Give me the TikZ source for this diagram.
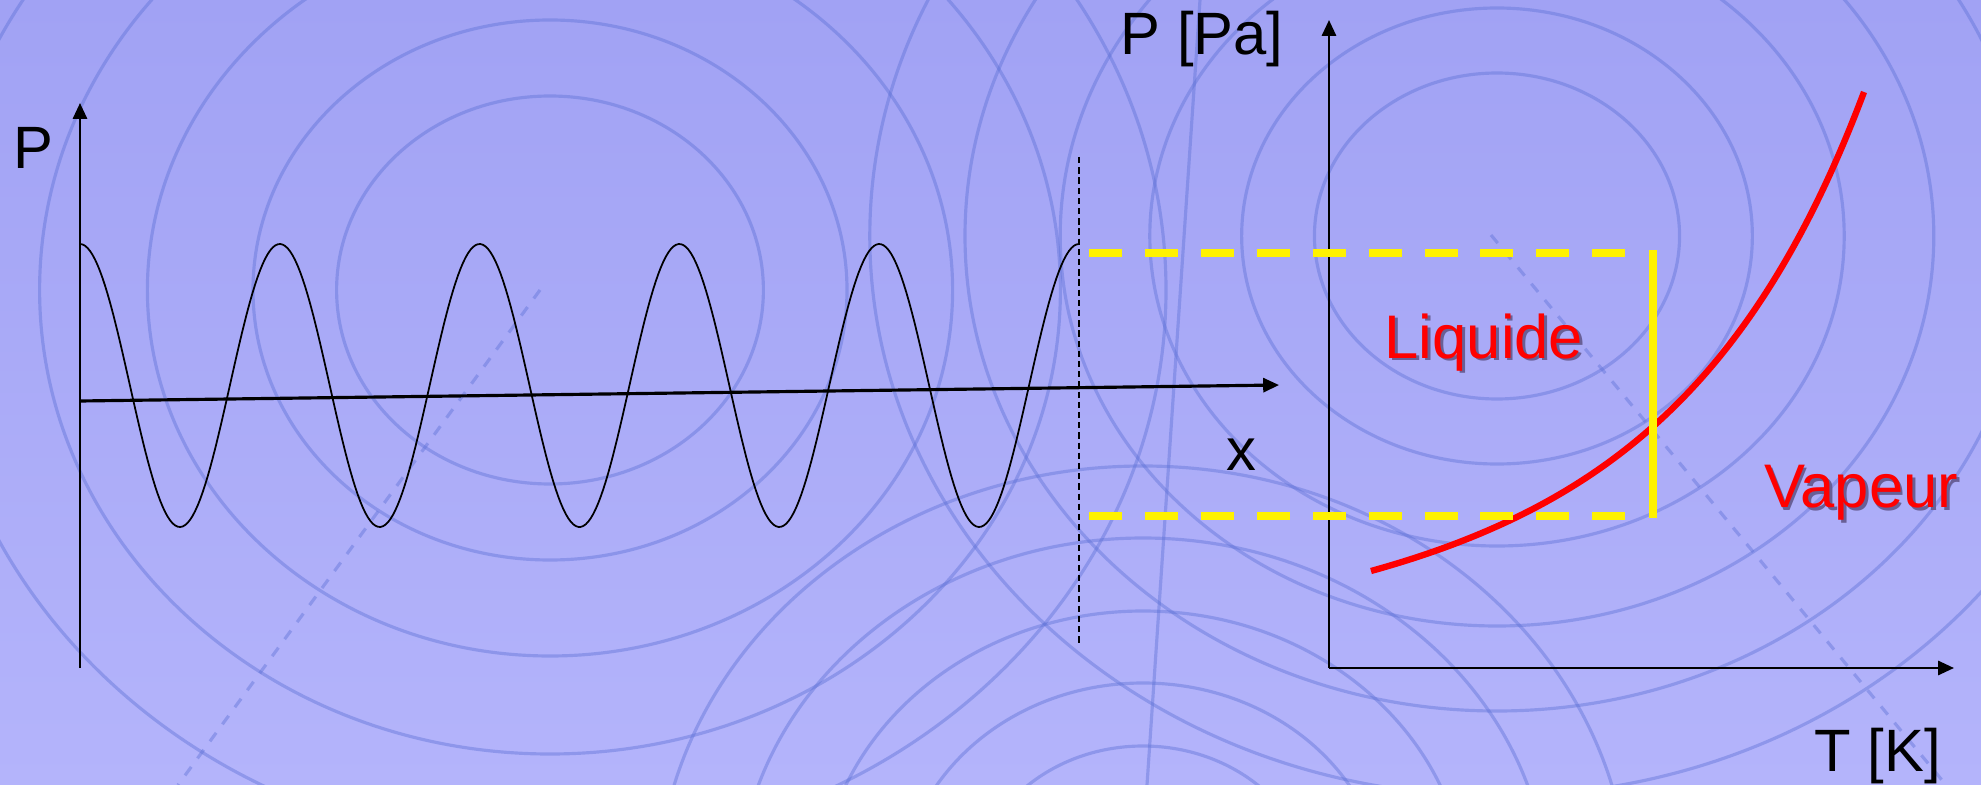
\documentclass[tikz,border=0pt]{standalone}
\usepackage{fontspec}
\setmainfont{Liberation Sans}
\usetikzlibrary{arrows.meta, positioning}

\definecolor{fondhaut}{RGB}{161,162,244}
\definecolor{fondbas}{RGB}{180,180,251}
\definecolor{bleuanneau}{RGB}{92,112,214}
\definecolor{ombregris}{RGB}{105,95,150}

% texte rouge avec ombre portee
\newcommand{\ombre}[1]{\makebox[0pt][l]{\kern0.8pt\raisebox{-0.8pt}{\color{ombregris}#1}}#1}

\begin{document}
\begin{tikzpicture}[
    x=0.01cm, y=-0.01cm,
    etiquette/.style={font=\fontsize{17}{20}\selectfont, anchor=base, inner sep=0pt},
    nomphase/.style={etiquette, text=red, font=\fontsize{17.5}{21}\selectfont},
    axe/.style={-{Triangle[length=4.5pt, width=4pt]}, line width=0.7pt},
    onde/.style={line width=0.5pt},
    niveau/.style={draw=yellow, line width=2.3pt, dash pattern=on 9.4pt off 6.5pt},
    anneau/.style={draw=bleuanneau, line width=0.9pt, opacity=0.42}
]
    \useasboundingbox (0,0) rectangle (1981,785);
    \shade[top color=fondhaut, bottom color=fondbas] (0,0) rectangle (1981,785);

    % fond : anneaux
    \begin{scope}
        \clip (0,0) rectangle (1981,785);
        \foreach \r in {194,270,366,464,560}
            \draw[anneau] (550,290) ellipse [x radius={1.1*\r}, y radius=\r];
        \foreach \r in {163,228,310,390,475,560}
            \draw[anneau] (1497,236) ellipse [x radius={1.12*\r}, y radius=\r];
        \foreach \r in {154,217,289,362,434}
            \draw[anneau] (1143,900) ellipse [x radius={1.12*\r}, y radius=\r];
        \draw[anneau, dashed] (540,290) -- (178,785);
        \draw[anneau, dashed] (1491,235) -- (1946,785);
        \draw[anneau] (1200,0) -- (1147,785);
    \end{scope}

    % onde de pression
    \coordinate (origineG) at (80,668);
    \coordinate (sommetG) at (80,103);
    \coordinate (departX) at (80,401);
    \coordinate (finX) at (1279,385);
    \coordinate (coupeHaut) at (1079,157);
    \coordinate (coupeBas) at (1079,643);

    \draw[onde] plot[domain=80:1079, samples=400] (\x, {385.5 - 141.5*cos(1.8018*(\x-80))});
    \draw[axe] (origineG) -- (sommetG);
    \draw[axe, line width=0.9pt] (departX) -- (finX);
    \draw[line width=0.4pt, dash pattern=on 1.8pt off 1.1pt] (coupeHaut) -- (coupeBas);

    \node[etiquette] (pG) at (33,169) {P};
    \node[etiquette] (xG) at (1241,470) {x};

    % diagramme de phase
    \coordinate (origineD) at (1329,668);
    \coordinate (sommetD) at (1329,20);
    \coordinate (finT) at (1954,668);
    \draw[axe] (origineD) -- (sommetD);
    \draw[axe] (origineD) -- (finT);

    \node[etiquette] (pD) at (1202,55) {P [Pa]};
    \node[etiquette] (tD) at (1878,771) {T [K]};

    \draw[red, line width=1.8pt] (1371,571) .. controls (1598,508) and (1752,390) .. (1864,92);

    \draw[niveau] (1089,253) -- (1630,253);
    \draw[niveau] (1089,516) -- (1630,516);
    \draw[yellow, line width=2pt] (1653,250) -- (1653,518);

    \node[nomphase] (liquide) at (1484,358) {\ombre{Liquide}};
    \node[nomphase] (vapeur) at (1861,508) {\ombre{Vapeur}};
\end{tikzpicture}
\end{document}
